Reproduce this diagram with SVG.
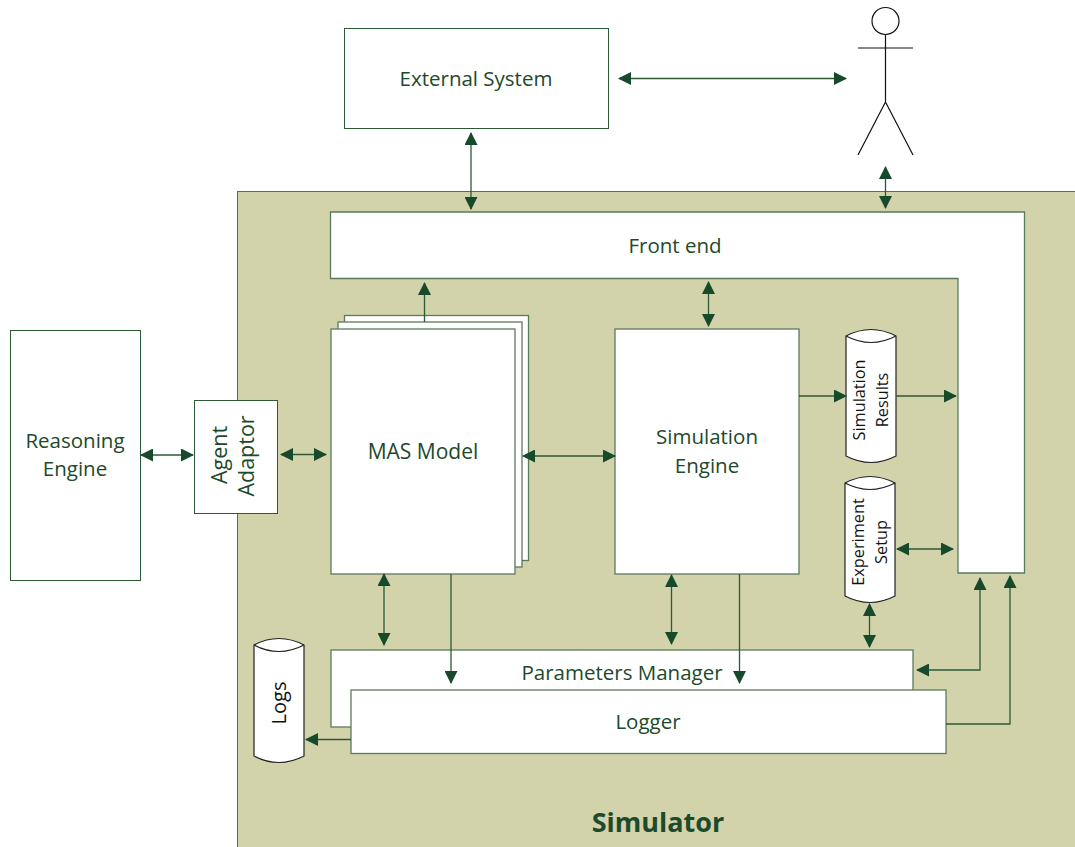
<svg xmlns="http://www.w3.org/2000/svg" width="1075" height="847" viewBox="0 0 1075 847">
<style>
.b{fill:#fff;stroke:#5a7a5c;stroke-width:1.3}
.o{fill:#fff;stroke:#2b5a35;stroke-width:1}
.c{fill:#fff;stroke:#222;stroke-width:1.2}
.t{font-family:"Open Sans","Noto Sans",sans-serif;font-size:20.5px;fill:#1c4a2b;text-anchor:middle}
.r{font-size:21.5px}
.k{font-family:"Open Sans","Noto Sans",sans-serif;font-size:16.3px;fill:#111;text-anchor:middle}
.l{fill:none;stroke:#2b5a35;stroke-width:1.3}
.f{fill:none;stroke:#111;stroke-width:1.2}
</style>
<defs>
<marker id="e" viewBox="0 0 13 13" refX="12" refY="6.500" markerWidth="13" markerHeight="13" markerUnits="userSpaceOnUse" orient="auto-start-reverse"><path d="M0 0L13 6.500L0 13Z" fill="#174a2a"/></marker>
</defs>
<rect id="simulator" x="237.500" y="191.500" width="838" height="657" fill="#d2d3ab" stroke="#4f7052" stroke-width="1"/>
<text x="658" y="832" font-family="'Open Sans','Noto Sans',sans-serif" font-size="27" font-weight="700" fill="#1c4a2b" text-anchor="middle">Simulator</text>
<g id="external-system"><rect class="o" x="344.500" y="28.500" width="264" height="100"/><text class="t" x="476" y="86">External System</text></g>
<g id="actor">
<circle class="f" cx="885.500" cy="21" r="13.500"/>
<path class="f" d="M885.500 35V102M858 48H913M885.500 102L858 155M885.500 102L913 155"/>
</g>
<g id="reasoning-engine"><rect class="o" x="10.500" y="330.500" width="130" height="250"/><text class="t" x="75" y="448">Reasoning</text><text class="t" x="75" y="476">Engine</text></g>
<g id="agent-adaptor"><rect class="o" x="194.500" y="400.500" width="83" height="113"/><text class="t r" transform="translate(227 455) rotate(-90)">Agent</text><text class="t r" transform="translate(254 456) rotate(-90)">Adaptor</text></g>
<g id="front-end"><path class="b" d="M330.500 212H1024.500V573H958V278.500H330.500Z"/><text class="t" x="675" y="253">Front end</text></g>
<g id="mas-model">
<rect class="b" x="344.500" y="315.500" width="184" height="245"/>
<rect class="b" x="338" y="322" width="184" height="245"/>
<rect class="b" x="331" y="329" width="184" height="245"/>
<text class="t" style="font-size:21px" x="423" y="459">MAS Model</text>
</g>
<g id="simulation-engine"><rect class="b" x="615" y="329" width="184" height="245"/><text class="t" x="707" y="444">Simulation</text><text class="t" x="707" y="473">Engine</text></g>
<g id="simulation-results">
<path class="c" d="M846 336Q871 323 896 336V456Q871 469 846 456Z"/>
<path class="c" d="M846 336Q871 349 896 336"/>
<text class="k" transform="translate(865 400) rotate(-90)">Simulation</text><text class="k" transform="translate(888 400) rotate(-90)">Results</text>
</g>
<g id="experiment-setup">
<path class="c" d="M845 483Q870 470 895 483V596Q870 609 845 596Z"/>
<path class="c" d="M845 483Q870 496 895 483"/>
<text class="k" transform="translate(864 542) rotate(-90)">Experiment</text><text class="k" transform="translate(887 542) rotate(-90)">Setup</text>
</g>
<g id="parameters-manager"><rect class="b" x="331" y="650" width="582" height="77"/><text class="t" x="622" y="680">Parameters Manager</text></g>
<g id="logger"><rect class="b" x="351" y="690" width="595" height="63.500"/><text class="t" x="648" y="729">Logger</text></g>
<g id="logs">
<path class="c" d="M254 645Q279 632 304 645V756Q279 769 254 756Z"/>
<path class="c" d="M254 645Q279 658 304 645"/>
<text class="k" style="font-size:20px" transform="translate(286 703) rotate(-90)">Logs</text>
</g>
<g id="connectors">
<path class="l" marker-start="url(#e)" marker-end="url(#e)" d="M619 78.500H846"/>
<path class="l" marker-start="url(#e)" marker-end="url(#e)" d="M471 133V209"/>
<path class="l" marker-start="url(#e)" marker-end="url(#e)" d="M885.500 167V208"/>
<path class="l" marker-start="url(#e)" marker-end="url(#e)" d="M141 455H193"/>
<path class="l" marker-start="url(#e)" marker-end="url(#e)" d="M281 454.500H326"/>
<path class="l" marker-end="url(#e)" d="M424.500 322V283"/>
<path class="l" marker-start="url(#e)" marker-end="url(#e)" d="M523 456H615"/>
<path class="l" marker-start="url(#e)" marker-end="url(#e)" d="M708.500 282V326"/>
<path class="l" marker-end="url(#e)" d="M799 396H846"/>
<path class="l" marker-end="url(#e)" d="M896 396H956"/>
<path class="l" marker-start="url(#e)" marker-end="url(#e)" d="M897 549H953"/>
<path class="l" marker-start="url(#e)" marker-end="url(#e)" d="M869.500 604V647"/>
<path class="l" marker-start="url(#e)" marker-end="url(#e)" d="M384 574V645"/>
<path class="l" marker-end="url(#e)" d="M451 574V683"/>
<path class="l" marker-start="url(#e)" marker-end="url(#e)" d="M671.500 575V644"/>
<path class="l" marker-end="url(#e)" d="M739.500 574V683"/>
<path class="l" marker-start="url(#e)" marker-end="url(#e)" d="M917 670H980V578"/>
<path class="l" marker-end="url(#e)" d="M946 724H1010V576"/>
<path class="l" marker-end="url(#e)" d="M351 739.500H306"/>
</g>
</svg>
